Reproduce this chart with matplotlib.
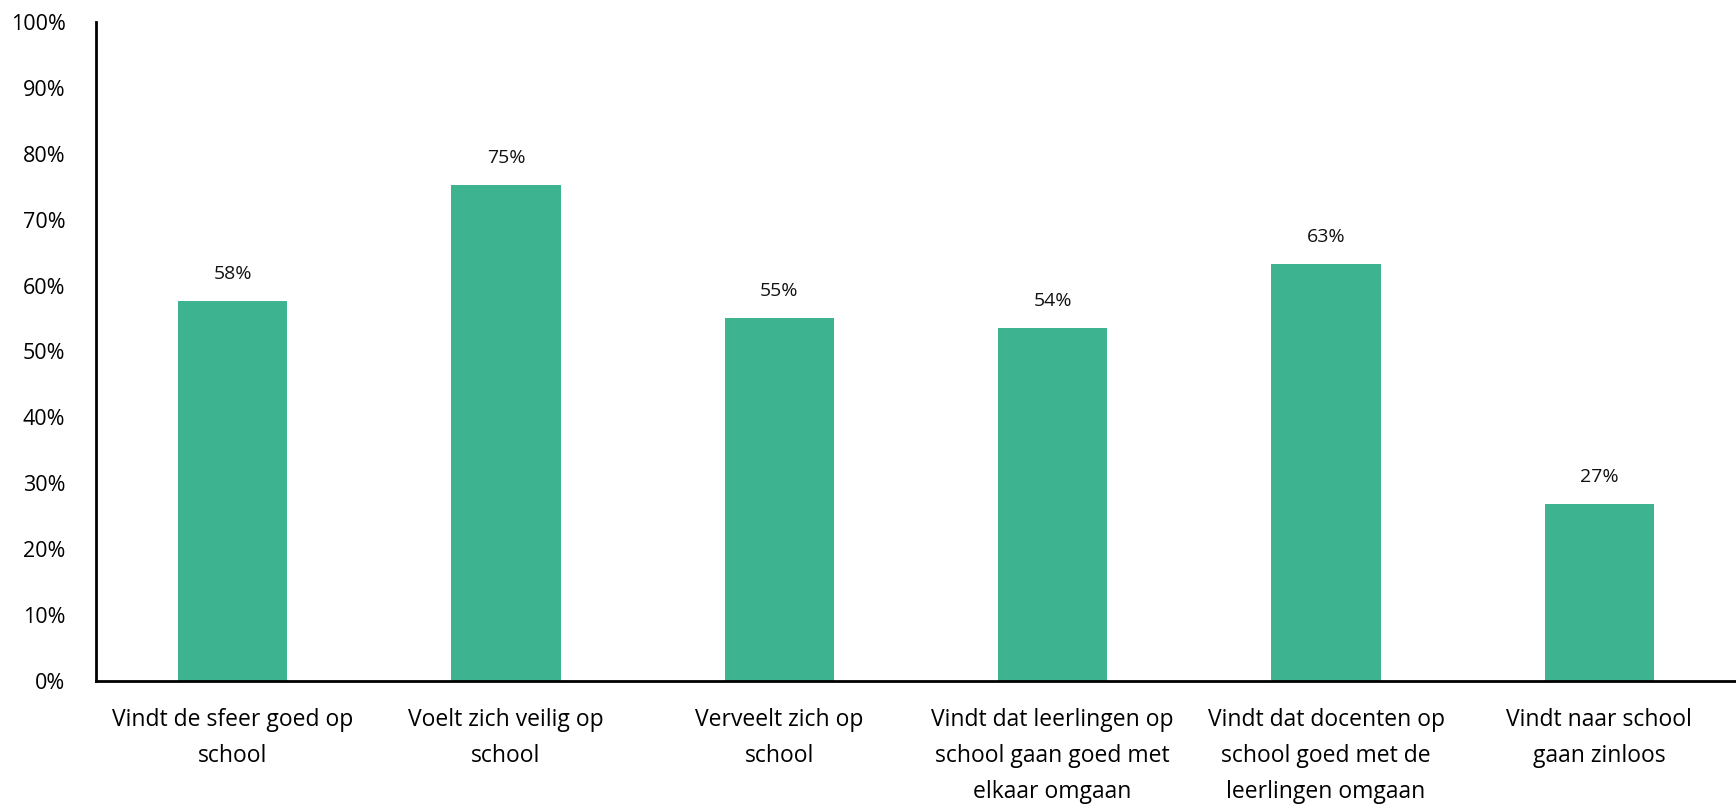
import numpy as np
import matplotlib
matplotlib.use('Agg')
import matplotlib.pyplot as plt
from matplotlib.ticker import PercentFormatter

plt.rcParams['font.family'] = ['Open Sans', 'DejaVu Sans']

categories = ['Vindt de sfeer goed op\nschool',
              'Voelt zich veilig op\nschool',
              'Verveelt zich op\nschool',
              'Vindt dat leerlingen op\nschool gaan goed met\nelkaar omgaan',
              'Vindt dat docenten op\nschool goed met de\nleerlingen omgaan',
              'Vindt naar school\ngaan zinloos']
values = [0.576, 0.753, 0.551, 0.536, 0.632, 0.268]

bar_color = '#3eb38f'

fig = plt.figure(figsize=(17.36, 8.07), dpi=100)
ax = fig.add_axes([0.0553, 0.1565, 0.9447, 0.8162])

x = np.arange(len(categories))
bars = ax.bar(x, values, width=0.4, color=bar_color)

for b, v in zip(bars, values):
    ax.annotate(f'{round(v * 100):d}%', (b.get_x() + b.get_width() / 2, v),
                xytext=(0, 13), textcoords='offset points',
                ha='center', va='bottom', fontsize=14, color='#111111')

ax.set_xlim(-0.5, len(categories) - 0.5)
ax.set_ylim(0, 1)
ax.set_yticks(np.arange(0, 1.01, 0.1))
ax.yaxis.set_major_formatter(PercentFormatter(1.0, decimals=0))
ax.set_xticks(x)
ax.set_xticklabels(categories, fontsize=16.5, linespacing=1.65)
ax.tick_params(axis='y', labelsize=15.5, length=0, pad=22)
ax.tick_params(axis='x', length=0, pad=20)

for s in ['top', 'right']:
    ax.spines[s].set_visible(False)
for s in ['left', 'bottom']:
    ax.spines[s].set_linewidth(2)
    ax.spines[s].set_color('black')

fig.savefig('out.png', dpi=100)
